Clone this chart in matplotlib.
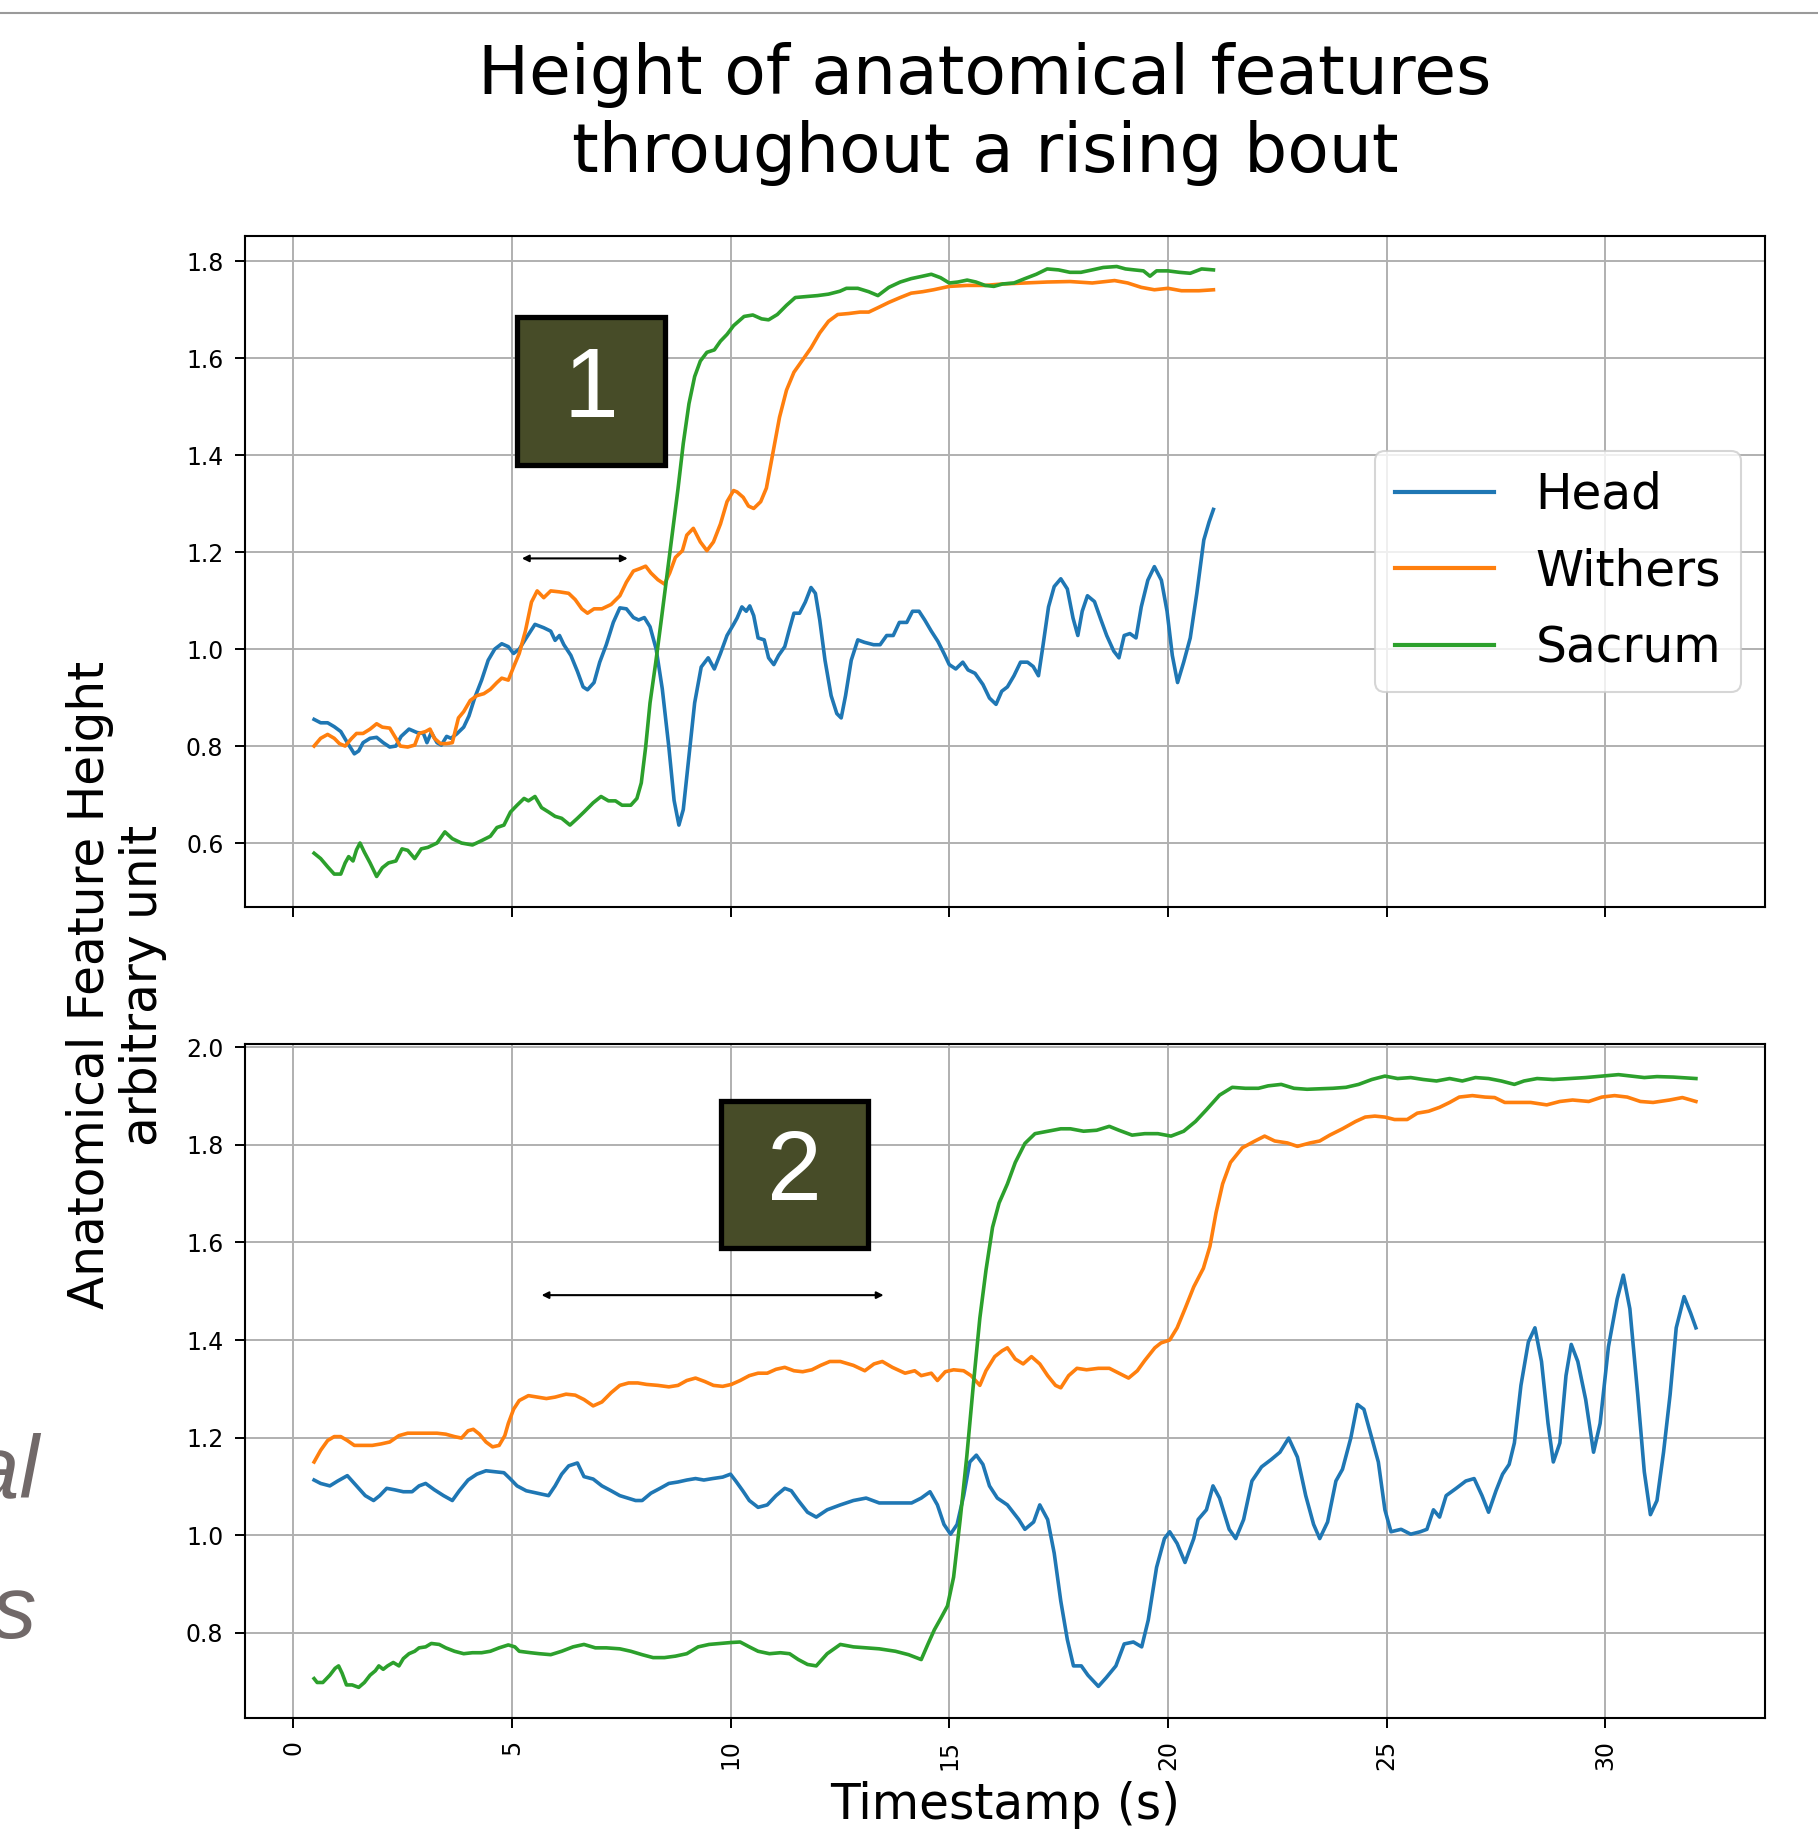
import numpy as np
import matplotlib
matplotlib.use("Agg")
import matplotlib.pyplot as plt
from matplotlib.patches import Rectangle
from matplotlib.lines import Line2D

# ---------------- data (time s, height) ----------------
top_head = [(0.48,0.855),(0.63,0.848),(0.79,0.848),(0.94,0.84),(1.09,0.83),(1.24,0.807),(1.40,0.784),
    (1.50,0.79),(1.60,0.807),(1.76,0.816),(1.91,0.818),(2.06,0.807),(2.21,0.798),(2.35,0.80),(2.47,0.82),
    (2.65,0.835),(2.83,0.828),(2.98,0.826),(3.06,0.807),(3.16,0.828),(3.29,0.807),(3.39,0.802),(3.51,0.82),
    (3.61,0.816),(3.74,0.825),(3.90,0.839),(4.02,0.862),(4.15,0.899),(4.31,0.936),(4.46,0.977),(4.61,1.0),
    (4.77,1.011),(4.92,1.005),(5.04,0.991),(5.17,1.0),(5.33,1.023),(5.53,1.051),(5.73,1.044),(5.89,1.037),
    (5.99,1.018),(6.09,1.028),(6.19,1.009),(6.35,0.987),(6.50,0.954),(6.63,0.922),(6.73,0.916),(6.88,0.931),
    (7.01,0.973),(7.16,1.009),(7.32,1.055),(7.47,1.085),(7.62,1.083),(7.78,1.065),(7.90,1.06),(8.03,1.065),
    (8.16,1.046),(8.30,1.0),(8.44,0.918),(8.59,0.798),(8.71,0.688),(8.82,0.637),(8.92,0.669),(9.05,0.779),
    (9.18,0.889),(9.33,0.963),(9.49,0.982),(9.63,0.959),(9.77,0.991),(9.92,1.028),(10.07,1.051),(10.15,1.064),
    (10.26,1.087),(10.36,1.078),(10.44,1.089),(10.53,1.069),(10.63,1.023),(10.77,1.019),(10.87,0.982),
    (10.99,0.968),(11.10,0.987),(11.24,1.005),(11.35,1.042),(11.45,1.074),(11.58,1.074),(11.71,1.097),
    (11.84,1.127),(11.94,1.115),(12.04,1.06),(12.16,0.977),(12.30,0.904),(12.43,0.867),(12.53,0.858),
    (12.63,0.904),(12.76,0.977),(12.91,1.019),(13.06,1.014),(13.27,1.009),(13.42,1.009),(13.57,1.028),
    (13.72,1.028),(13.86,1.055),(14.03,1.055),(14.16,1.078),(14.31,1.078),(14.44,1.06),(14.59,1.037),
    (14.74,1.016),(14.88,0.991),(15.0,0.968),(15.15,0.959),(15.31,0.973),(15.43,0.957),(15.59,0.95),
    (15.77,0.927),(15.92,0.899),(16.07,0.886),(16.20,0.913),(16.33,0.922),(16.48,0.945),(16.63,0.973),
    (16.79,0.973),(16.92,0.964),(17.04,0.945),(17.14,1.005),(17.27,1.087),(17.40,1.129),(17.55,1.145),
    (17.70,1.124),(17.83,1.064),(17.94,1.028),(18.04,1.078),(18.16,1.11),(18.32,1.098),(18.47,1.06),
    (18.60,1.028),(18.76,0.996),(18.88,0.982),(19.0,1.028),(19.13,1.032),(19.27,1.023),(19.39,1.087),
    (19.54,1.142),(19.69,1.170),(19.85,1.142),(19.98,1.078),(20.10,0.987),(20.22,0.931),(20.36,0.973),
    (20.51,1.023),(20.66,1.115),(20.82,1.225),(20.94,1.262),(21.04,1.288)]

top_withers = [(0.48,0.80),(0.63,0.816),(0.79,0.824),(0.94,0.816),(1.06,0.805),(1.19,0.80),(1.33,0.815),
    (1.45,0.826),(1.60,0.826),(1.76,0.835),(1.91,0.846),(2.04,0.839),(2.21,0.837),(2.35,0.816),(2.45,0.80),
    (2.62,0.798),(2.78,0.802),(2.88,0.826),(3.03,0.830),(3.13,0.835),(3.23,0.816),(3.37,0.805),(3.51,0.805),
    (3.64,0.807),(3.78,0.858),(3.90,0.871),(4.05,0.894),(4.20,0.904),(4.36,0.908),(4.51,0.917),(4.66,0.931),
    (4.77,0.94),(4.92,0.936),(5.04,0.963),(5.17,0.991),(5.31,1.037),(5.45,1.097),(5.58,1.12),(5.73,1.106),
    (5.89,1.12),(6.09,1.118),(6.30,1.115),(6.45,1.102),(6.60,1.083),(6.73,1.074),(6.88,1.083),(7.06,1.083),
    (7.27,1.092),(7.47,1.11),(7.62,1.138),(7.78,1.161),(7.93,1.166),(8.06,1.171),(8.18,1.157),(8.34,1.143),
    (8.49,1.134),(8.61,1.157),(8.74,1.189),(8.90,1.203),(9.0,1.235),(9.15,1.249),(9.31,1.221),(9.46,1.203),
    (9.61,1.221),(9.77,1.258),(9.92,1.304),(10.07,1.327),(10.15,1.324),(10.29,1.313),(10.41,1.295),
    (10.53,1.290),(10.69,1.304),(10.82,1.332),(10.97,1.405),(11.12,1.478),(11.28,1.534),(11.45,1.571),
    (11.63,1.594),(11.84,1.621),(12.04,1.652),(12.24,1.676),(12.45,1.69),(12.70,1.692),(12.96,1.695),
    (13.16,1.695),(13.37,1.704),(13.62,1.715),(13.88,1.725),(14.13,1.734),(14.39,1.737),(14.64,1.741),
    (15.0,1.748),(15.41,1.75),(15.82,1.75),(16.22,1.753),(16.73,1.755),(17.24,1.757),(17.76,1.758),
    (18.27,1.755),(18.78,1.76),(19.08,1.755),(19.39,1.746),(19.69,1.741),(20.0,1.744),(20.31,1.739),
    (20.71,1.739),(21.04,1.741)]

top_sacrum = [(0.48,0.579),(0.63,0.568),(0.79,0.551),(0.94,0.536),(1.09,0.536),(1.19,0.559),(1.27,0.572),
    (1.37,0.563),(1.45,0.586),(1.53,0.60),(1.63,0.581),(1.76,0.559),(1.91,0.531),(2.04,0.549),(2.18,0.559),
    (2.35,0.563),(2.49,0.588),(2.62,0.585),(2.78,0.568),(2.93,0.588),(3.08,0.591),(3.29,0.60),(3.47,0.623),
    (3.64,0.609),(3.85,0.60),(4.10,0.596),(4.31,0.605),(4.51,0.614),(4.66,0.632),(4.82,0.637),(4.97,0.664),
    (5.12,0.678),(5.28,0.692),(5.38,0.687),(5.53,0.696),(5.68,0.673),(5.84,0.664),(5.99,0.655),(6.14,0.651),
    (6.33,0.637),(6.50,0.651),(6.65,0.664),(6.86,0.683),(7.04,0.696),(7.21,0.687),(7.37,0.687),(7.52,0.678),
    (7.72,0.678),(7.86,0.692),(7.96,0.724),(8.06,0.798),(8.16,0.889),(8.29,0.972),(8.41,1.055),(8.54,1.147),
    (8.67,1.239),(8.80,1.331),(8.92,1.424),(9.05,1.506),(9.18,1.562),(9.31,1.594),(9.46,1.612),(9.63,1.617),
    (9.77,1.635),(9.92,1.649),(10.07,1.667),(10.31,1.686),(10.51,1.689),(10.71,1.681),(10.87,1.679),
    (11.07,1.69),(11.28,1.709),(11.48,1.725),(11.73,1.727),(11.99,1.729),(12.24,1.732),(12.50,1.738),
    (12.65,1.744),(12.91,1.744),(13.16,1.737),(13.37,1.729),(13.62,1.746),(13.88,1.757),(14.13,1.764),
    (14.39,1.769),(14.59,1.773),(14.80,1.766),(15.0,1.755),(15.20,1.757),(15.41,1.761),(15.61,1.757),
    (15.82,1.75),(16.02,1.748),(16.22,1.753),(16.48,1.755),(16.73,1.764),(16.99,1.773),(17.24,1.784),
    (17.50,1.782),(17.76,1.777),(18.01,1.777),(18.27,1.782),(18.52,1.787),(18.83,1.789),(19.03,1.784),
    (19.23,1.782),(19.44,1.780),(19.59,1.769),(19.74,1.780),(20.0,1.780),(20.26,1.777),(20.51,1.775),
    (20.77,1.784),(21.04,1.782)]

bottom_head = [(0.48,1.113),(0.63,1.106),(0.84,1.101),(1.02,1.111),(1.24,1.122),(1.45,1.101),(1.65,1.081),
    (1.84,1.071),(1.98,1.081),(2.14,1.096),(2.32,1.093),(2.52,1.089),(2.72,1.089),(2.88,1.101),(3.03,1.106),
    (3.23,1.093),(3.44,1.081),(3.64,1.071),(3.80,1.091),(4.0,1.113),(4.20,1.125),(4.41,1.132),(4.61,1.130),
    (4.82,1.128),(4.97,1.115),(5.12,1.101),(5.33,1.091),(5.58,1.086),(5.84,1.081),(5.99,1.101),(6.14,1.125),
    (6.30,1.142),(6.50,1.148),(6.65,1.120),(6.86,1.115),(7.06,1.101),(7.27,1.091),(7.47,1.081),(7.65,1.076),
    (7.83,1.071),(7.98,1.071),(8.18,1.086),(8.39,1.096),(8.59,1.106),(8.80,1.109),(9.0,1.113),(9.20,1.116),
    (9.39,1.113),(9.59,1.116),(9.82,1.119),(10.0,1.125),(10.12,1.111),(10.28,1.091),(10.43,1.071),
    (10.63,1.057),(10.84,1.062),(11.04,1.081),(11.24,1.096),(11.39,1.091),(11.55,1.071),(11.76,1.047),
    (11.96,1.037),(12.21,1.052),(12.51,1.062),(12.81,1.071),(13.10,1.076),(13.40,1.066),(13.77,1.066),
    (14.14,1.066),(14.36,1.076),(14.56,1.089),(14.73,1.062),(14.88,1.022),(15.03,1.002),(15.18,1.022),
    (15.33,1.081),(15.47,1.150),(15.62,1.164),(15.77,1.145),(15.92,1.101),(16.10,1.076),(16.33,1.062),
    (16.59,1.032),(16.73,1.012),(16.93,1.027),(17.07,1.062),(17.25,1.032),(17.40,0.963),(17.55,0.865),
    (17.70,0.786),(17.84,0.732),(18.02,0.732),(18.17,0.713),(18.41,0.690),(18.59,0.708),(18.81,0.732),
    (19.0,0.777),(19.21,0.781),(19.40,0.771),(19.55,0.826),(19.74,0.934),(19.92,0.993),(20.04,1.007),
    (20.21,0.983),(20.39,0.944),(20.59,0.993),(20.69,1.032),(20.88,1.052),(21.03,1.101),(21.18,1.076),
    (21.40,1.012),(21.55,0.993),(21.73,1.032),(21.92,1.111),(22.14,1.140),(22.36,1.155),(22.56,1.170),
    (22.76,1.199),(22.96,1.160),(23.15,1.081),(23.33,1.022),(23.47,0.993),(23.65,1.027),(23.84,1.111),
    (23.99,1.135),(24.18,1.199),(24.33,1.268),(24.48,1.258),(24.63,1.209),(24.81,1.150),(24.96,1.052),
    (25.10,1.007),(25.33,1.012),(25.55,1.002),(25.77,1.007),(25.92,1.012),(26.07,1.052),(26.21,1.037),
    (26.36,1.081),(26.59,1.096),(26.81,1.111),(27.0,1.116),(27.18,1.081),(27.33,1.047),(27.50,1.091),
    (27.65,1.125),(27.80,1.145),(27.92,1.189),(28.07,1.307),(28.24,1.396),(28.39,1.425),(28.54,1.356),
    (28.69,1.229),(28.81,1.150),(28.96,1.189),(29.10,1.327),(29.22,1.391),(29.37,1.356),(29.55,1.278),
    (29.73,1.170),(29.88,1.229),(30.07,1.386),(30.27,1.484),(30.41,1.533),(30.56,1.464),(30.74,1.288),
    (30.89,1.130),(31.03,1.042),(31.18,1.071),(31.33,1.170),(31.48,1.288),(31.62,1.425),(31.80,1.489),
    (31.95,1.455),(32.07,1.425)]

bottom_withers = [(0.48,1.150),(0.63,1.174),(0.79,1.194),(0.94,1.202),(1.09,1.202),(1.24,1.194),(1.40,1.184),
    (1.60,1.184),(1.81,1.184),(2.01,1.187),(2.21,1.191),(2.42,1.204),(2.62,1.209),(2.88,1.209),(3.08,1.209),
    (3.29,1.209),(3.49,1.207),(3.69,1.202),(3.85,1.199),(4.0,1.214),(4.12,1.217),(4.26,1.207),(4.41,1.191),
    (4.56,1.181),(4.71,1.184),(4.84,1.204),(4.92,1.229),(5.04,1.258),(5.17,1.276),(5.38,1.286),(5.58,1.283),
    (5.79,1.280),(5.99,1.283),(6.24,1.289),(6.45,1.287),(6.65,1.278),(6.86,1.265),(7.06,1.273),(7.27,1.292),
    (7.47,1.307),(7.67,1.312),(7.88,1.312),(8.08,1.309),(8.34,1.307),(8.59,1.304),(8.80,1.307),(9.0,1.317),
    (9.20,1.322),(9.41,1.315),(9.61,1.307),(9.82,1.305),(10.02,1.309),(10.22,1.317),(10.43,1.327),
    (10.63,1.332),(10.84,1.332),(11.04,1.340),(11.24,1.344),(11.45,1.337),(11.65,1.335),(11.86,1.339),
    (12.06,1.348),(12.27,1.356),(12.51,1.356),(12.81,1.348),(13.07,1.337),(13.28,1.351),(13.47,1.356),
    (13.70,1.344),(13.99,1.332),(14.21,1.337),(14.36,1.327),(14.59,1.332),(14.73,1.317),(14.91,1.335),
    (15.10,1.339),(15.33,1.337),(15.50,1.327),(15.70,1.307),(15.84,1.337),(16.04,1.366),(16.21,1.378),
    (16.33,1.384),(16.51,1.361),(16.69,1.351),(16.88,1.366),(17.07,1.351),(17.25,1.327),(17.43,1.307),
    (17.55,1.302),(17.73,1.327),(17.92,1.342),(18.14,1.339),(18.41,1.342),(18.66,1.342),(18.88,1.332),
    (19.10,1.322),(19.30,1.337),(19.47,1.358),(19.70,1.384),(19.84,1.394),(20.04,1.40),(20.21,1.425),
    (20.39,1.464),(20.59,1.509),(20.81,1.547),(20.96,1.592),(21.10,1.661),(21.25,1.720),(21.43,1.764),
    (21.70,1.794),(21.99,1.808),(22.21,1.818),(22.44,1.808),(22.73,1.804),(22.96,1.797),(23.25,1.804),
    (23.47,1.808),(23.70,1.820),(23.99,1.833),(24.29,1.848),(24.51,1.857),(24.73,1.859),(24.96,1.857),
    (25.18,1.852),(25.47,1.852),(25.70,1.865),(25.96,1.869),(26.21,1.877),(26.44,1.887),(26.66,1.898),
    (26.96,1.901),(27.25,1.898),(27.47,1.897),(27.70,1.887),(28.0,1.887),(28.29,1.887),(28.66,1.882),
    (28.96,1.889),(29.25,1.892),(29.62,1.889),(29.92,1.898),(30.21,1.901),(30.50,1.898),(30.80,1.889),
    (31.09,1.887),(31.47,1.892),(31.76,1.897),(32.07,1.889)]

bottom_sacrum = [(0.48,0.706),(0.55,0.698),(0.68,0.698),(0.84,0.713),(0.96,0.727),(1.04,0.732),(1.12,0.717),
    (1.22,0.693),(1.35,0.693),(1.50,0.688),(1.63,0.698),(1.76,0.713),(1.88,0.722),(1.96,0.732),(2.06,0.725),
    (2.16,0.732),(2.29,0.739),(2.42,0.732),(2.52,0.747),(2.65,0.757),(2.78,0.762),(2.88,0.769),(3.03,0.771),
    (3.16,0.778),(3.34,0.776),(3.49,0.769),(3.69,0.762),(3.90,0.757),(4.10,0.759),(4.31,0.759),(4.51,0.762),
    (4.71,0.769),(4.92,0.775),(5.07,0.771),(5.17,0.762),(5.43,0.759),(5.63,0.757),(5.89,0.755),(6.14,0.762),
    (6.40,0.771),(6.65,0.776),(6.91,0.769),(7.16,0.769),(7.47,0.767),(7.72,0.762),(7.98,0.755),(8.23,0.749),
    (8.49,0.749),(8.74,0.752),(9.0,0.757),(9.26,0.771),(9.51,0.776),(9.77,0.778),(10.02,0.780),(10.22,0.781),
    (10.43,0.771),(10.63,0.762),(10.89,0.757),(11.14,0.759),(11.35,0.757),(11.55,0.745),(11.76,0.735),
    (11.96,0.732),(12.21,0.757),(12.51,0.776),(12.81,0.771),(13.10,0.769),(13.40,0.767),(13.77,0.762),
    (14.07,0.755),(14.36,0.745),(14.51,0.776),(14.66,0.806),(14.81,0.830),(14.96,0.855),(15.10,0.914),
    (15.25,1.032),(15.40,1.160),(15.55,1.307),(15.70,1.445),(15.84,1.543),(15.99,1.631),(16.14,1.681),
    (16.33,1.720),(16.51,1.764),(16.73,1.803),(16.96,1.823),(17.25,1.828),(17.55,1.833),(17.77,1.833),
    (18.07,1.828),(18.37,1.830),(18.66,1.838),(18.88,1.830),(19.18,1.820),(19.47,1.823),(19.77,1.823),
    (20.07,1.818),(20.36,1.828),(20.63,1.848),(20.88,1.872),(21.18,1.902),(21.47,1.918),(21.77,1.916),
    (22.07,1.916),(22.29,1.921),(22.59,1.924),(22.88,1.916),(23.18,1.914),(23.47,1.915),(23.77,1.916),
    (24.07,1.918),(24.36,1.924),(24.66,1.934),(24.96,1.941),(25.25,1.936),(25.55,1.938),(25.84,1.934),
    (26.14,1.931),(26.44,1.936),(26.73,1.931),(27.03,1.938),(27.33,1.936),(27.62,1.931),(27.92,1.924),
    (28.14,1.931),(28.44,1.936),(28.81,1.934),(29.18,1.936),(29.55,1.938),(29.92,1.941),(30.30,1.944),
    (30.59,1.941),(30.89,1.938),(31.18,1.940),(31.55,1.939),(32.07,1.936)]

series_labels = ["Head", "Withers", "Sacrum"]
title_lines = ["Height of anatomical features", "throughout a rising bout"]
ylabel_text = "Anatomical Feature Height\narbitrary unit"
xlabel_text = "Timestamp (s)"
phase_labels = ["1", "2"]

# ---------------- figure ----------------
W, H = 1818, 1836
fig = plt.figure(figsize=(W / 100, H / 100), dpi=100)

def px_box(l, t, r, b):
    return [l / W, 1 - b / H, (r - l) / W, (b - t) / H]

ax1 = fig.add_axes(px_box(245, 236, 1765, 907))
ax2 = fig.add_axes(px_box(245, 1044, 1765, 1718), sharex=ax1)

colors = ["#1f77b4", "#ff7f0e", "#2ca02c"]
for ax, group in ((ax1, (top_head, top_withers, top_sacrum)),
                  (ax2, (bottom_head, bottom_withers, bottom_sacrum))):
    for data, lab, c in zip(group, series_labels, colors):
        arr = np.array(data)
        ax.plot(arr[:, 0], arr[:, 1], color=c, lw=2.6, label=lab, zorder=3,
                solid_joinstyle="round")
    ax.grid(True, color="#b0b0b0", lw=1.4)
    ax.tick_params(labelsize=17, length=7, width=1.4, pad=8.5)
    for s in ax.spines.values():
        s.set_linewidth(1.5)

plt.setp(ax1.get_xticklabels(), visible=False)
for lbl in ax2.get_xticklabels():
    lbl.set_rotation(90)

leg = ax1.legend(loc="center right", fontsize=35, labelspacing=0.59, borderpad=0.4,
                 handlelength=2.05, handletextpad=0.85, framealpha=0.8)
leg.get_frame().set_linewidth(1.5)
for l in leg.get_lines():
    l.set_linewidth(3)

# phase boxes + arrows
box_specs = [(ax1, 5.13, 1.3795, 3.38, 0.305, 5.23, 7.65, 1.187),
             (ax2, 9.79, 1.5895, 3.36, 0.301, 5.68, 13.50, 1.492)]
for (ax, x0, y0, w, h, a0, a1, ay), lab in zip(box_specs, phase_labels):
    ax.add_patch(Rectangle((x0, y0), w, h, facecolor="#474c28", edgecolor="black",
                           lw=3.8, zorder=6))
    ax.text(x0 + w / 2, y0 + h / 2, lab, color="white", fontsize=71,
            family="Liberation Sans", ha="center", va="center", zorder=7)
    ax.annotate("", xy=(a1, ay), xytext=(a0, ay),
                arrowprops=dict(arrowstyle="<|-|>", color="black", lw=1.5,
                                shrinkA=0, shrinkB=0, mutation_scale=10), zorder=6)

# titles / labels
fig.text(985 / W, 1 - 94 / H, title_lines[0], ha="center", va="baseline", fontsize=49)
fig.text(985 / W, 1 - 172 / H, title_lines[1], ha="center", va="baseline", fontsize=49)
fig.text(116.5 / W, 1 - 985 / H, ylabel_text, rotation=90, ha="center", va="center",
         multialignment="center", fontsize=35, linespacing=1.15)
ax2.set_xlabel(xlabel_text, fontsize=35)
ax2.xaxis.set_label_coords(0.5, -0.094)

# slide decorations: top rule and cut-off italic text at left edge
fig.add_artist(Line2D([0, 1], [1 - 12.7 / H, 1 - 12.7 / H], transform=fig.transFigure,
                      color="#9a9a9a", lw=1.5))
fig.text(39 / W, 1 - 1498 / H, "al", ha="right", va="baseline", fontsize=64,
         style="italic", family="Liberation Sans", color="#716969")
fig.text(36 / W, 1 - 1638 / H, "s", ha="right", va="baseline", fontsize=64,
         style="italic", family="Liberation Sans", color="#716969")

fig.savefig("out.png", dpi=100)
